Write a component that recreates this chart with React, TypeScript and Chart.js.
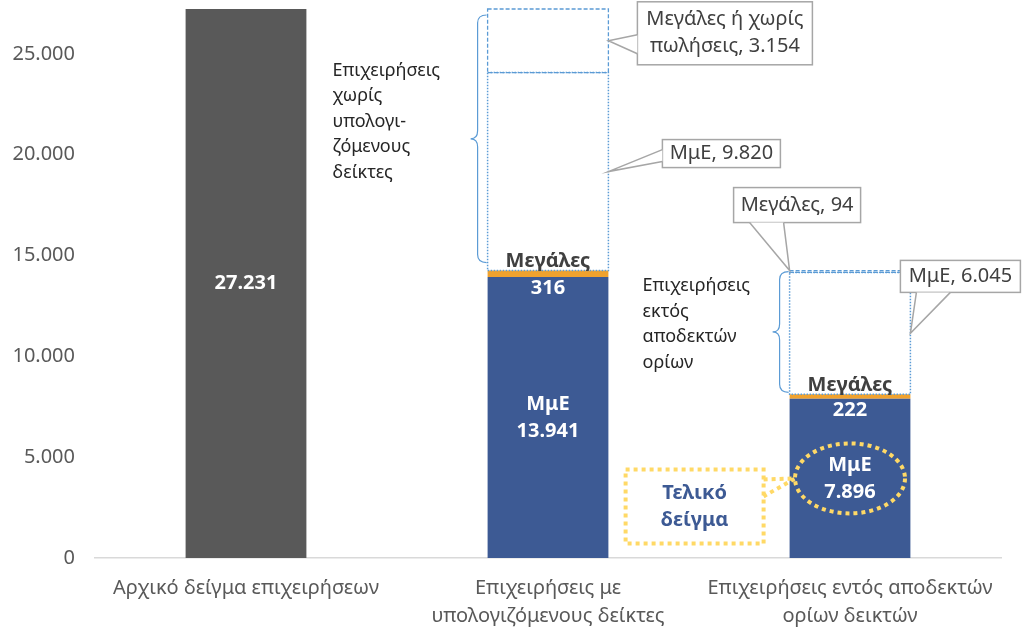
import { useRef, useEffect } from 'react';
import Chart from 'chart.js/auto';

// categories and segment values
const categories: string[][] = [
  ['Αρχικό δείγμα επιχειρήσεων'],
  ['Επιχειρήσεις με', 'υπολογιζόμενους δείκτες'],
  ['Επιχειρήσεις εντός αποδεκτών', 'ορίων δεικτών'],
];
const initialSample = [27231, null, null];
const smeIn = [null, 13941, 7896];
const largeIn = [null, 316, 222];
const smeOut = [null, 9820, 6045];
const largeOut = [null, 3154, 94];
const yTicks = [0, 5000, 10000, 15000, 20000, 25000];

const FONT = "'Noto Sans', sans-serif";
const GREY = '#595959';
const BLUE = '#3D5A94';
const ORANGE = '#F0A22E';
const OUTLINE = '#5B9BD5';
const YELLOW = '#FFD966';
const CALLOUT_BORDER = '#A6A6A6';

function fmt(v: number) {
  return String(v).replace(/\B(?=(\d{3})+(?!\d))/g, '.');
}

// speech-bubble box: box rect plus a wedge towards the tip
function callout(ctx: CanvasRenderingContext2D, bx: number, by: number, bw: number, bh: number,
  tip: [number, number], b1: [number, number], b2: [number, number], lines: string[]) {
  ctx.save();
  ctx.fillStyle = '#FFFFFF';
  ctx.strokeStyle = CALLOUT_BORDER;
  ctx.lineWidth = 1.5;
  ctx.fillRect(bx, by, bw, bh);
  ctx.strokeRect(bx, by, bw, bh);
  ctx.beginPath();
  ctx.moveTo(b1[0], b1[1]);
  ctx.lineTo(tip[0], tip[1]);
  ctx.lineTo(b2[0], b2[1]);
  ctx.closePath();
  ctx.fill();
  ctx.beginPath();
  ctx.moveTo(b1[0], b1[1]);
  ctx.lineTo(tip[0], tip[1]);
  ctx.lineTo(b2[0], b2[1]);
  ctx.stroke();
  ctx.fillStyle = '#404040';
  ctx.font = `20px ${FONT}`;
  ctx.textAlign = 'center';
  ctx.textBaseline = 'middle';
  const lh = 27;
  const y0 = by + bh / 2 - ((lines.length - 1) * lh) / 2;
  lines.forEach((l, i) => ctx.fillText(l, bx + bw / 2, y0 + i * lh));
  ctx.restore();
}

function brace(ctx: CanvasRenderingContext2D, xr: number, top: number, bottom: number) {
  const xm = xr - 9;
  const xt = xr - 16;
  const yc = (top + bottom) / 2;
  const r = 8;
  ctx.save();
  ctx.strokeStyle = OUTLINE;
  ctx.lineWidth = 1.2;
  ctx.beginPath();
  ctx.moveTo(xr, top);
  ctx.quadraticCurveTo(xm, top, xm, top + r);
  ctx.lineTo(xm, yc - r);
  ctx.quadraticCurveTo(xm, yc, xt, yc);
  ctx.quadraticCurveTo(xm, yc, xm, yc + r);
  ctx.lineTo(xm, bottom - r);
  ctx.quadraticCurveTo(xm, bottom, xr, bottom);
  ctx.stroke();
  ctx.restore();
}

function textBlock(ctx: CanvasRenderingContext2D, x: number, yc: number, lines: string[]) {
  ctx.save();
  ctx.fillStyle = '#262626';
  ctx.font = `18px ${FONT}`;
  ctx.textAlign = 'left';
  ctx.textBaseline = 'middle';
  const lh = 25.5;
  const y0 = yc - ((lines.length - 1) * lh) / 2;
  lines.forEach((l, i) => ctx.fillText(l, x, y0 + i * lh));
  ctx.restore();
}

const annotations = {
  id: 'annotations',
  afterDatasetsDraw(chart: any) {
    const ctx: CanvasRenderingContext2D = chart.ctx;
    const el = (ds: number, i: number) => chart.getDatasetMeta(ds).data[i];

    // outlined (unfilled) segments
    const outline = (ds: number, i: number, dash: number[], w: number) => {
      const e = el(ds, i);
      const l = e.x - e.width / 2;
      ctx.save();
      ctx.strokeStyle = OUTLINE;
      ctx.lineWidth = w;
      ctx.setLineDash(dash);
      ctx.strokeRect(l, Math.min(e.y, e.base), e.width, Math.abs(e.base - e.y));
      ctx.restore();
    };
    for (let i = 1; i <= 2; i++) {
      outline(3, i, [1.5, 1.5], 1.5);
      outline(4, i, [4, 2], 1.3);
    }

    ctx.save();
    ctx.textAlign = 'center';
    ctx.textBaseline = 'middle';
    // first bar value
    const e0 = el(0, 0);
    ctx.fillStyle = '#FFFFFF';
    ctx.font = `bold 20px ${FONT}`;
    ctx.fillText(fmt(initialSample[0] as number), e0.x, (e0.y + e0.base) / 2);

    for (let i = 1; i <= 2; i++) {
      const s = el(1, i);
      const yc = (s.y + s.base) / 2;
      ctx.fillStyle = '#FFFFFF';
      ctx.font = `bold 20px ${FONT}`;
      ctx.fillText('ΜμΕ', s.x, yc - 13);
      ctx.fillText(fmt(smeIn[i] as number), s.x, yc + 14);
      const g = el(2, i);
      ctx.textBaseline = 'bottom';
      ctx.fillStyle = '#404040';
      ctx.fillText('Μεγάλες', g.x, g.y + 1);
      ctx.textBaseline = 'top';
      ctx.fillStyle = '#FFFFFF';
      ctx.fillText(fmt(largeIn[i] as number), g.x, g.base + 1);
      ctx.textBaseline = 'middle';
    }
    ctx.restore();

    // braces and side texts
    const t2 = el(4, 1), m2 = el(3, 1);
    const left2 = t2.x - t2.width / 2;
    brace(ctx, left2 - 1, t2.y + 6, m2.base - 8);
    textBlock(ctx, left2 - 155, (t2.y + m2.base) / 2 - 18,
      ['Επιχειρήσεις', 'χωρίς', 'υπολογι-', 'ζόμενους', 'δείκτες']);

    const t3 = el(4, 2), m3 = el(3, 2);
    const left3 = t3.x - t3.width / 2;
    const right3 = t3.x + t3.width / 2;
    brace(ctx, left3 - 1, t3.y + 1, m3.base - 2);
    textBlock(ctx, left3 - 147, (t3.y + m3.base) / 2 - 8,
      ['Επιχειρήσεις', 'εκτός', 'αποδεκτών', 'ορίων']);

    // callouts
    const right2 = t2.x + t2.width / 2;
    const tipA: [number, number] = [right2, (t2.y + t2.base) / 2];
    callout(ctx, right2 + 29, tipA[1] - 39, 175, 63, tipA,
      [right2 + 29, tipA[1] - 6], [right2 + 29, tipA[1] + 13],
      ['Μεγάλες ή χωρίς', 'πωλήσεις, ' + fmt(largeOut[1] as number)]);

    const tipB: [number, number] = [right2, (m2.y + m2.base) / 2];
    callout(ctx, right2 + 54, tipB[1] - 32, 118, 28, tipB,
      [right2 + 54, tipB[1] - 22], [right2 + 54, tipB[1] - 10],
      ['ΜμΕ, ' + fmt(smeOut[1] as number)]);

    const tipC: [number, number] = [left3, t3.y];
    callout(ctx, left3 - 56, t3.y - 83, 127, 35, tipC,
      [left3 - 40, t3.y - 48], [left3 - 6, t3.y - 48],
      ['Μεγάλες, ' + fmt(largeOut[2] as number)]);

    const tipD: [number, number] = [right3, (m3.y + m3.base) / 2];
    callout(ctx, right3 - 10, tipD[1] - 73, 120, 32, tipD,
      [right3 + 6, tipD[1] - 41], [right3 + 40, tipD[1] - 41],
      ['ΜμΕ, ' + fmt(smeOut[2] as number)]);

    // "Τελικό δείγμα" highlight
    const s3 = el(1, 2);
    const ex = s3.x, ey = (s3.y + s3.base) / 2;
    ctx.save();
    ctx.strokeStyle = YELLOW;
    ctx.lineWidth = 4;
    ctx.setLineDash([4, 4]);
    ctx.beginPath();
    ctx.ellipse(ex, ey, 55, 35, 0, 0, Math.PI * 2);
    ctx.stroke();
    const rx = left3 - 164, ry = ey - 9, rw = 138, rh = 74;
    ctx.strokeRect(rx, ry, rw, rh);
    ctx.beginPath();
    ctx.moveTo(rx + rw, ry + 10);
    ctx.lineTo(ex - 55, ey);
    ctx.lineTo(rx + rw, ry + 27);
    ctx.stroke();
    ctx.setLineDash([]);
    ctx.fillStyle = BLUE;
    ctx.font = `bold 20px ${FONT}`;
    ctx.textAlign = 'center';
    ctx.textBaseline = 'middle';
    ctx.fillText('Τελικό', rx + rw / 2, ry + rh / 2 - 13);
    ctx.fillText('δείγμα', rx + rw / 2, ry + rh / 2 + 14);
    ctx.restore();
  },
};

function BarChart() {
  const chartRef = useRef<HTMLCanvasElement | null>(null);
  const chartInstance = useRef<Chart | null>(null);

  useEffect(() => {
    if (chartInstance.current) {
      chartInstance.current.destroy();
    }
    if (!chartRef.current) return;
    const ctx = chartRef.current.getContext('2d');
    if (!ctx) return;

    chartInstance.current = new Chart(ctx, {
      type: 'bar',
      data: {
        labels: categories,
        datasets: [
          { label: 'Αρχικό δείγμα', data: initialSample, backgroundColor: GREY },
          { label: 'ΜμΕ', data: smeIn, backgroundColor: BLUE },
          { label: 'Μεγάλες', data: largeIn, backgroundColor: ORANGE },
          { label: 'ΜμΕ (εκτός)', data: smeOut, backgroundColor: 'rgba(0,0,0,0)' },
          { label: 'Μεγάλες ή χωρίς πωλήσεις', data: largeOut, backgroundColor: 'rgba(0,0,0,0)' },
        ] as any,
      },
      options: {
        responsive: false,
        animation: false,
        layout: { padding: { top: 9, right: 23, left: 0, bottom: 0 } },
        datasets: { bar: { barPercentage: 1, categoryPercentage: 0.4, borderWidth: 0 } },
        plugins: {
          legend: { display: false },
          tooltip: { enabled: false },
        },
        scales: {
          x: {
            stacked: true,
            grid: { display: false },
            border: { display: true, color: '#D9D9D9', width: 1.5 },
            ticks: {
              color: GREY,
              font: { family: FONT, size: 20, lineHeight: 1.4 },
              padding: 8,
              maxRotation: 0,
              autoSkip: false,
            },
            afterFit: (scale: any) => { scale.height = 83; },
          },
          y: {
            stacked: true,
            min: 0,
            max: 27231,
            grid: { display: false, drawTicks: false },
            border: { display: false },
            ticks: {
              color: GREY,
              font: { family: FONT, size: 20 },
              padding: 20,
              callback: (v: any) => fmt(Number(v)),
            },
            afterBuildTicks: (scale: any) => {
              scale.ticks = yTicks.map((v) => ({ value: v }));
            },
            afterFit: (scale: any) => {
              scale.width = 95;
              scale.paddingTop = 0;
              scale.paddingBottom = 0;
            },
          },
        },
      } as any,
      plugins: [annotations],
    });

    return () => {
      if (chartInstance.current) {
        chartInstance.current.destroy();
        chartInstance.current = null;
      }
    };
  }, []);

  return (
    <div style={{ position: 'fixed', left: 0, top: 0, width: 1024, height: 641, background: '#FFFFFF' }}>
      <canvas ref={chartRef} width={1024} height={641}></canvas>
    </div>
  );
}

export default function App() {
  return <BarChart />;
}
